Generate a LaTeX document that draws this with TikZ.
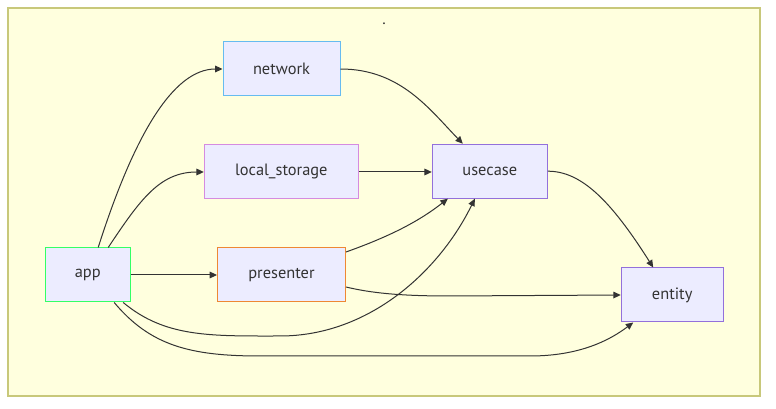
\documentclass[tikz,border=0pt]{standalone}
\usepackage{fontspec}
\setmainfont{PT Sans}
\usetikzlibrary{arrows.meta}
\definecolor{clfill}{HTML}{FFFFDE}
\definecolor{clborder}{HTML}{C8C87A}
\definecolor{nfill}{HTML}{ECECFF}
\definecolor{purp}{HTML}{9370DB}
\definecolor{netc}{HTML}{66BBF0}
\definecolor{lsc}{HTML}{D58BE0}
\definecolor{appc}{HTML}{33FF66}
\definecolor{prc}{HTML}{EE8833}
\definecolor{ink}{HTML}{333333}
\tikzset{
  box/.style={draw=purp, fill=nfill, line width=0.75pt, inner sep=0pt,
    minimum height=54*0.75pt, text=ink, font=\fontsize{12.3}{14}\selectfont},
  edge/.style={draw=ink, line width=0.75pt, -{Triangle[length=5.5pt,width=5pt]}},
}
\begin{document}
\begin{tikzpicture}[x=0.75pt, y=-0.75pt]
\useasboundingbox (0,0) rectangle (776,409);
\fill[white] (0,0) rectangle (776,409);
\draw[fill=clfill, draw=clborder, line width=1pt] (8,8) rectangle (760,396);
\node[text=ink, font=\fontsize{12}{14}\selectfont] (title) at (384,24) {.};

\node[box, draw=netc, minimum width=117*0.75pt] (network) at (281.5,69) {network};
\node[box, draw=lsc, minimum width=154*0.75pt] (ls) at (281.3,172) {local\_storage};
\node[box, draw=appc, minimum width=85*0.75pt] (app) at (87.7,275) {app};
\node[box, draw=prc, minimum width=128*0.75pt] (presenter) at (281.5,275) {presenter};
\node[box, minimum width=115*0.75pt] (usecase) at (489.8,171.2) {usecase};
\node[box, minimum width=102*0.75pt] (entity) at (672.2,295) {entity};

% app -> network
\draw[edge] ([xshift=10.5*0.75pt]app.north) .. controls +(35,-110) and +(-50,0) .. (network.west);
% app -> local_storage
\draw[edge] ([xshift=20.5*0.75pt]app.north) .. controls +(32,-48) and +(-44,0) .. (ls.west);
% app -> presenter
\draw[edge] (app.east) -- (presenter.west);
% app -> usecase
\draw[edge] ([xshift=35.5*0.75pt]app.south) .. controls +(42,35) and +(-70,0) .. (280,336)
  .. controls (370,336) and (440,270) .. ([xshift=-15*0.75pt]usecase.south);
% app -> entity
\draw[edge] ([xshift=26.5*0.75pt]app.south) .. controls +(36,43) and +(-70,0) .. (260,356)
  -- (530,356) .. controls (580,356) and (610,340) .. ([xshift=-39*0.75pt]entity.south);
% network -> usecase
\draw[edge] (network.east) .. controls +(60,0) and +(-33,-34) .. ([xshift=-27*0.75pt]usecase.north);
% local_storage -> usecase
\draw[edge] (ls.east) -- (ls.east -| usecase.west);
% presenter -> usecase
\draw[edge] ([yshift=23*0.75pt]presenter.east) .. controls +(45,-16) and +(-28,22) .. ([xshift=-42*0.75pt]usecase.south);
% presenter -> entity
\draw[edge] ([yshift=-12*0.75pt]presenter.east) .. controls +(25,6) and +(-50,0) .. (450,296) -- (entity.west);
% usecase -> entity
\draw[edge] (usecase.east) .. controls +(33,0) and +(-43,-68) .. ([xshift=-19*0.75pt]entity.north);
\end{tikzpicture}
\end{document}
